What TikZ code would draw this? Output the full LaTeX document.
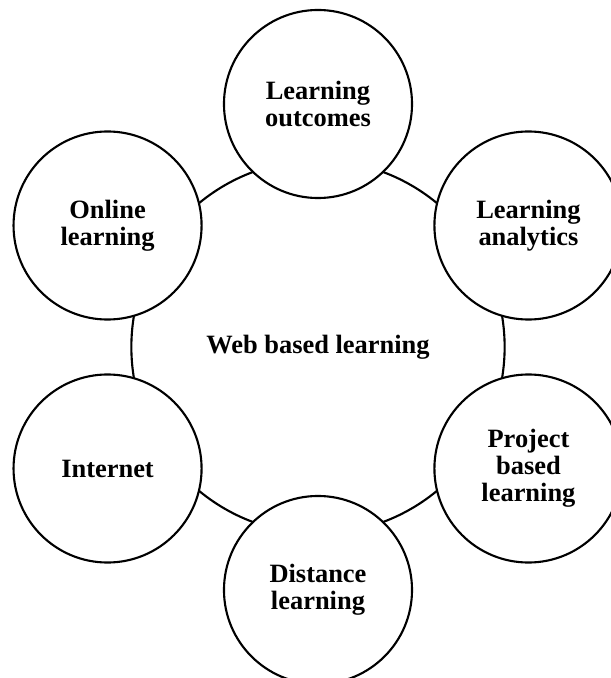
\documentclass[tikz,border=0pt]{standalone}
\usepackage{fontspec}
\setmainfont{Liberation Serif}
\begin{document}
\begin{tikzpicture}[x=0.025cm,y=0.025cm,
  rotulo/.style={font=\fontsize{18.8}{19.2}\selectfont\bfseries, align=center},
  tema/.style={rotulo, circle, draw, fill=white, line width=1.5pt, minimum size=4.7cm}]

% moldura
\useasboundingbox (-318,-331) rectangle (293,347);

% círculo central
\node[rotulo, circle, draw, line width=1.5pt, minimum size=9.33cm] (web) at (0,0) {Web based learning};

% círculos externos
\foreach \ang/\nome/\texto in {90/outcomes/{Learning\\outcomes},
                               30/analytics/{Learning\\analytics},
                               -30/project/{Project\\based\\learning},
                               -90/distance/{Distance\\learning},
                               -150/internet/{Internet},
                               150/online/{Online\\learning}} {
  \node[tema] (\nome) at (\ang:243) {\texto};
}

\end{tikzpicture}
\end{document}
